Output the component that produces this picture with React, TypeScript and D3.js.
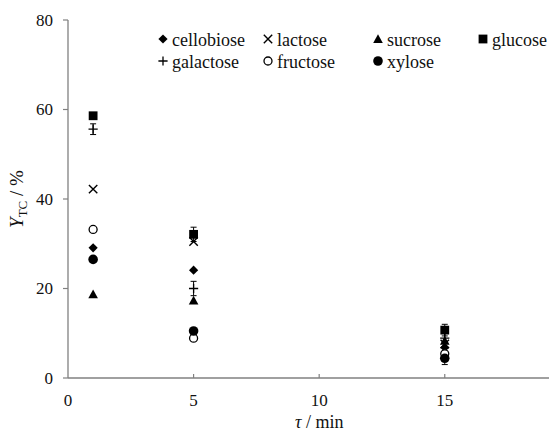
import * as d3 from 'd3';

const times = [1, 5, 15];
const sugars = ['cellobiose', 'lactose', 'sucrose', 'glucose', 'galactose', 'fructose', 'xylose'];
const cellobiose = [29.1, 24.1, 6.8];
const lactose = [42.2, 30.5, 7.6];
const sucrose = [18.7, 17.3, 8.3];
const glucose = [58.6, 32.1, 10.7];
const galactose = [55.6, 20.0, 8.9];
const fructose = [33.2, 8.9, 5.4];
const xylose = [26.5, 10.5, 4.4];
const galactoseErr = [1.2, 1.6, 2.0];
const glucoseErr = [0.6, 1.6, 1.3];
const xyloseErr = [0.4, 0.4, 1.4];
const xTicks = [0, 5, 10, 15];
const yTicks = [0, 20, 40, 60, 80];

const values: Record<string, number[]> = { cellobiose, lactose, sucrose, glucose, galactose, fructose, xylose };
const errors: Record<string, number[]> = { galactose: galactoseErr, glucose: glucoseErr, xylose: xyloseErr };

const W = 552, H = 432;
const m = { left: 68, right: 3, top: 20, bottom: 54 };
const font = 'Liberation Serif';

function Marker({ kind, x, y }: { kind: string; x: number; y: number }) {
  const t = `translate(${x},${y})`;
  switch (kind) {
    case 'cellobiose':
      return <path transform={t} d="M0,-4.6L4.6,0L0,4.6L-4.6,0Z" fill="#000" />;
    case 'lactose':
      return <path transform={t} d="M-4.2,-4.2L4.2,4.2M4.2,-4.2L-4.2,4.2" stroke="#000" strokeWidth={1.4} fill="none" />;
    case 'sucrose':
      return <path transform={t} d="M0,-4.8L4.8,4L-4.8,4Z" fill="#000" />;
    case 'glucose':
      return <rect transform={t} x={-4.4} y={-4.4} width={8.8} height={8.8} fill="#000" />;
    case 'galactose':
      return <path transform={t} d="M-4.6,0L4.6,0M0,-4.6L0,4.6" stroke="#000" strokeWidth={1.3} fill="none" />;
    case 'fructose':
      return <circle transform={t} r={4} fill="#fff" stroke="#000" strokeWidth={1.3} />;
    default:
      return <circle transform={t} r={4.8} fill="#000" />;
  }
}

export default function App() {
  const x = d3.scaleLinear().domain([0, 19.15]).range([m.left, W - m.right]);
  const y = d3.scaleLinear().domain([0, 80]).range([H - m.bottom, m.top]);
  const y0 = y(0);

  const legendCols = [163, 268, 378, 483];
  const legendRows = [40, 62];

  return (
    <svg width={W} height={H} style={{ position: 'absolute', left: 0, top: 0, background: '#fff' }}>
      {/* axes */}
      <line x1={m.left} x2={m.left} y1={m.top} y2={y0} stroke="#808080" strokeWidth={1.3} />
      <line x1={m.left} x2={W - m.right} y1={y0} y2={y0} stroke="#808080" strokeWidth={1.3} />
      {yTicks.map(v => (
        <g key={'y' + v}>
          <line x1={m.left - 5} x2={m.left} y1={y(v)} y2={y(v)} stroke="#808080" strokeWidth={1.2} />
          <text x={m.left - 15} y={y(v)} dy="0.35em" textAnchor="end" fontSize={17} fill="#111" fontFamily={font}>{v}</text>
        </g>
      ))}
      {xTicks.map(v => (
        <g key={'x' + v}>
          {v > 0 && <line x1={x(v)} x2={x(v)} y1={y0} y2={y0 - 4} stroke="#808080" strokeWidth={1.2} />}
          <text x={x(v)} y={y0 + 28} textAnchor="middle" fontSize={17} fill="#111" fontFamily={font}>{v}</text>
        </g>
      ))}
      <text x={x(10)} y={H - 4} textAnchor="middle" fontSize={18} fill="#111" fontFamily={font}>
        <tspan fontStyle="italic">τ</tspan> / min
      </text>
      <text transform={`translate(23,${y(40)}) rotate(-90)`} textAnchor="middle" fontSize={19} fill="#111" fontFamily={font}>
        <tspan fontStyle="italic">Y</tspan>
        <tspan fontSize={13} dy={4}>TC</tspan>
        <tspan dy={-4}> / %</tspan>
      </text>

      {/* error bars */}
      {Object.keys(errors).map(s => errors[s].map((e, i) => {
        const cx = x(times[i]);
        const top = y(values[s][i] + e), bot = y(values[s][i] - e);
        return (
          <g key={s + i} stroke="#000" strokeWidth={1}>
            <line x1={cx} x2={cx} y1={top} y2={bot} />
            <line x1={cx - 3} x2={cx + 3} y1={top} y2={top} />
            <line x1={cx - 3} x2={cx + 3} y1={bot} y2={bot} />
          </g>
        );
      }))}

      {/* points */}
      {sugars.map(s => values[s].map((v, i) => (
        <Marker key={s + i} kind={s} x={x(times[i])} y={y(v)} />
      )))}

      {/* legend */}
      {sugars.map((s, i) => {
        const col = i < 4 ? i : i - 4;
        const row = i < 4 ? 0 : 1;
        const lx = legendCols[col];
        const ly = legendRows[row];
        return (
          <g key={'lg' + s}>
            <Marker kind={s} x={lx} y={ly - 1} />
            <text x={lx + 9} y={ly} dy="0.35em" fontSize={18} fill="#111" fontFamily={font}>{s}</text>
          </g>
        );
      })}
    </svg>
  );
}
